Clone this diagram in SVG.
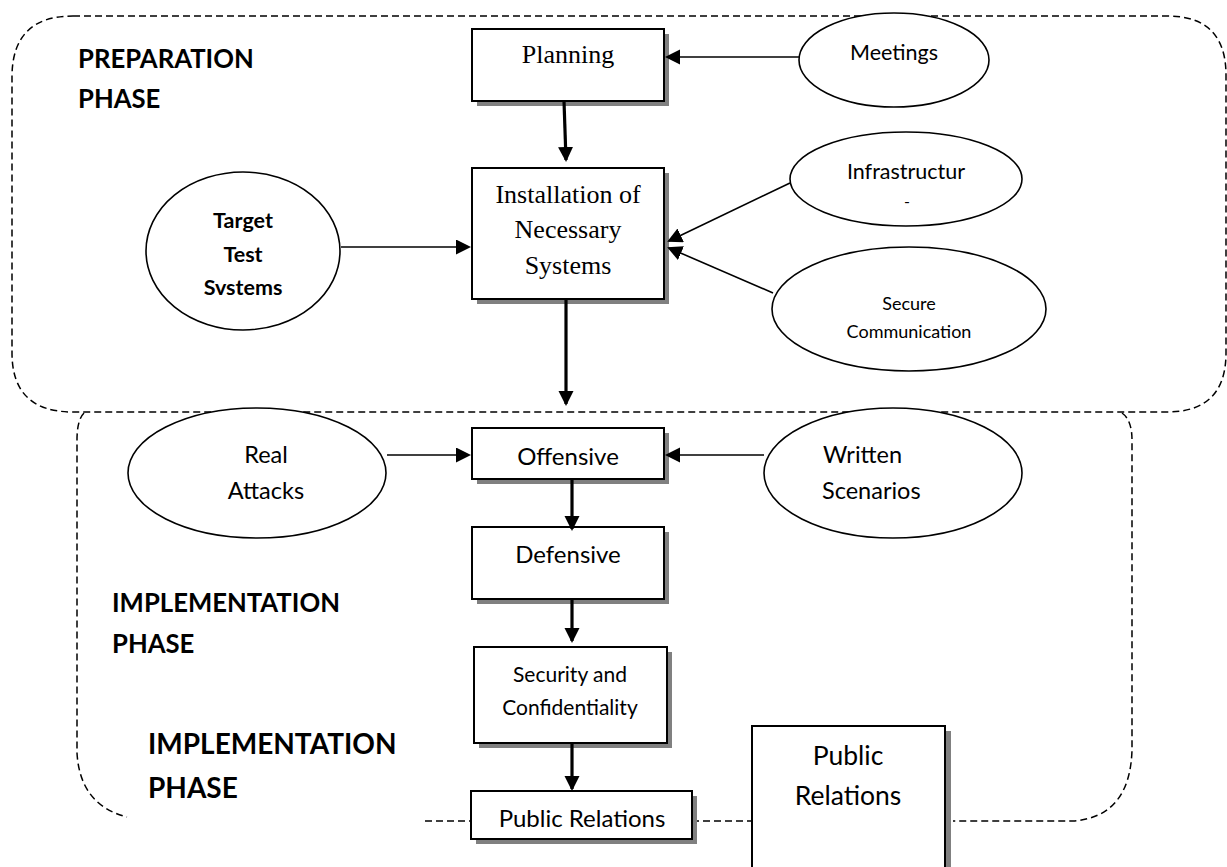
<svg xmlns="http://www.w3.org/2000/svg" width="1227" height="867" viewBox="0 0 1227 867">
<style>
.region{fill:none;stroke:#000;stroke-width:1.5;stroke-dasharray:7 4}
.box{fill:#fff;stroke:#000;stroke-width:2}
.shadow{fill:#808080}
.ell{fill:#fff;stroke:#000;stroke-width:1.6}
.thin{fill:none;stroke:#000;stroke-width:1.6}
.thick{fill:none;stroke:#000;stroke-width:3.2}
.serif{font-family:"Liberation Serif","Times New Roman",serif;font-size:26px;fill:#000;text-anchor:middle}
.sans{font-family:Lato,"Open Sans",sans-serif;fill:#000;text-anchor:middle}
.sans.start{text-anchor:start}
.phase{font-family:Lato,"Open Sans",sans-serif;font-weight:bold;fill:#000}
</style>
<defs>
<marker id="ah" markerUnits="userSpaceOnUse" markerWidth="16" markerHeight="16" refX="13" refY="7.5" orient="auto">
<path d="M0,0 L15,7.5 L0,15 z" fill="#000"/>
</marker>
</defs>

<g id="regions">
<path class="region" d="M73,16 L1167,16 Q1226,16 1226,75 L1226,353 Q1226,412 1167,412 L73,412 Q12,412 12,353 L12,77 Q12,16 73,16 Z"/>
<path class="region" d="M84,413 Q77,420 77,440 L77,753 Q80,805 127,817"/>
<path class="region" d="M1122,413 Q1132,420 1132,440 L1132,750 Q1130,817 1073,821 L953,821"/>
<path class="region" d="M425,821 L471,821"/>
<path class="region" d="M692,821 L752,821"/>
</g>

<g id="labels">
<text class="phase" x="78" y="68" font-size="25.7">PREPARATION</text>
<text class="phase" x="78" y="108" font-size="25.7">PHASE</text>
<text class="phase" x="112" y="612" font-size="25.7">IMPLEMENTATION</text>
<text class="phase" x="112" y="653" font-size="25.7">PHASE</text>
<text class="phase" x="148" y="754" font-size="28">IMPLEMENTATION</text>
<text class="phase" x="148" y="798" font-size="28">PHASE</text>
</g>

<g id="planning">
<rect class="shadow" x="477" y="34" width="192" height="72"/>
<rect class="box" x="472" y="29" width="192" height="72"/>
<text class="serif" x="568" y="63">Planning</text>
</g>

<g id="installation">
<rect class="shadow" x="477" y="173" width="192" height="131"/>
<rect class="box" x="472" y="168" width="192" height="131"/>
<text class="serif" x="568" y="203">Installation of</text>
<text class="serif" x="568" y="238">Necessary</text>
<text class="serif" x="568" y="274">Systems</text>
</g>

<g id="meetings">
<ellipse class="ell" cx="894" cy="60" rx="95" ry="47"/>
<text class="sans" x="894" y="60" font-size="21.5">Meetings</text>
</g>

<g id="infrastructure">
<ellipse class="ell" cx="906" cy="179" rx="116" ry="47"/>
<text class="sans" x="906" y="179" font-size="21.5">Infrastructur</text>
<text class="sans" x="907" y="207" font-size="16">-</text>
</g>

<g id="secure">
<ellipse class="ell" cx="909" cy="309" rx="137" ry="62"/>
<text class="sans" x="909" y="310" font-size="18">Secure</text>
<text class="sans" x="909" y="338" font-size="18">Communication</text>
</g>

<g id="target">
<ellipse class="ell" cx="243" cy="251" rx="97" ry="79"/>
<text class="sans" x="243" y="228" font-size="21.5" font-weight="bold">Target</text>
<text class="sans" x="243" y="262" font-size="21.5" font-weight="bold">Test</text>
<text class="sans" x="243" y="295" font-size="21.5" font-weight="bold">Svstems</text>
</g>

<g id="real">
<ellipse class="ell" cx="257" cy="473" rx="129" ry="65"/>
<text class="sans" x="266" y="463" font-size="23.5">Real</text>
<text class="sans" x="266" y="499" font-size="23.5">Attacks</text>
</g>

<g id="written">
<ellipse class="ell" cx="893" cy="473" rx="129" ry="65"/>
<text class="sans start" x="823" y="463" font-size="23.5">Written</text>
<text class="sans start" x="822" y="499" font-size="23.5">Scenarios</text>
</g>

<g id="offensive">
<rect class="shadow" x="477" y="433" width="192" height="51"/>
<rect class="box" x="472" y="428" width="192" height="51"/>
<text class="sans" x="568" y="465" font-size="24">Offensive</text>
</g>

<g id="defensive">
<rect class="shadow" x="477" y="532" width="192" height="72"/>
<rect class="box" x="472" y="527" width="192" height="72"/>
<text class="sans" x="568" y="563" font-size="24">Defensive</text>
</g>

<g id="security">
<rect class="shadow" x="479" y="652" width="193" height="96"/>
<rect class="box" x="474" y="647" width="193" height="96"/>
<text class="sans" x="570" y="682" font-size="21">Security and</text>
<text class="sans" x="570" y="715" font-size="21">Confidentiality</text>
</g>

<g id="public-relations">
<rect class="shadow" x="476" y="796" width="221" height="48"/>
<rect class="box" x="471" y="791" width="221" height="48"/>
<text class="sans" x="582" y="827" font-size="24">Public Relations</text>
</g>

<g id="public-relations-2">
<rect class="shadow" x="757" y="731" width="194" height="150"/>
<rect class="box" x="752" y="726" width="193" height="150"/>
<text class="sans" x="848" y="765" font-size="26.5">Public</text>
<text class="sans" x="848" y="805" font-size="26.5">Relations</text>
</g>

<g id="connectors">
<path class="thin" d="M799,57 L667,57" marker-end="url(#ah)"/>
<path class="thick" d="M564,101 L566,160" marker-end="url(#ah)"/>
<path class="thin" d="M341,247 L469,247" marker-end="url(#ah)"/>
<path class="thin" d="M790,183 L669,241" marker-end="url(#ah)"/>
<path class="thin" d="M773,293 L669,248" marker-end="url(#ah)"/>
<path class="thick" d="M566,299 L566,404" marker-end="url(#ah)"/>
<path class="thin" d="M387,455 L469,455" marker-end="url(#ah)"/>
<path class="thin" d="M764,455 L667,455" marker-end="url(#ah)"/>
<path class="thick" d="M572,479 L572,529" marker-end="url(#ah)"/>
<path class="thick" d="M572,599 L572,641" marker-end="url(#ah)"/>
<path class="thick" d="M572,743 L572,789" marker-end="url(#ah)"/>
</g>
</svg>
